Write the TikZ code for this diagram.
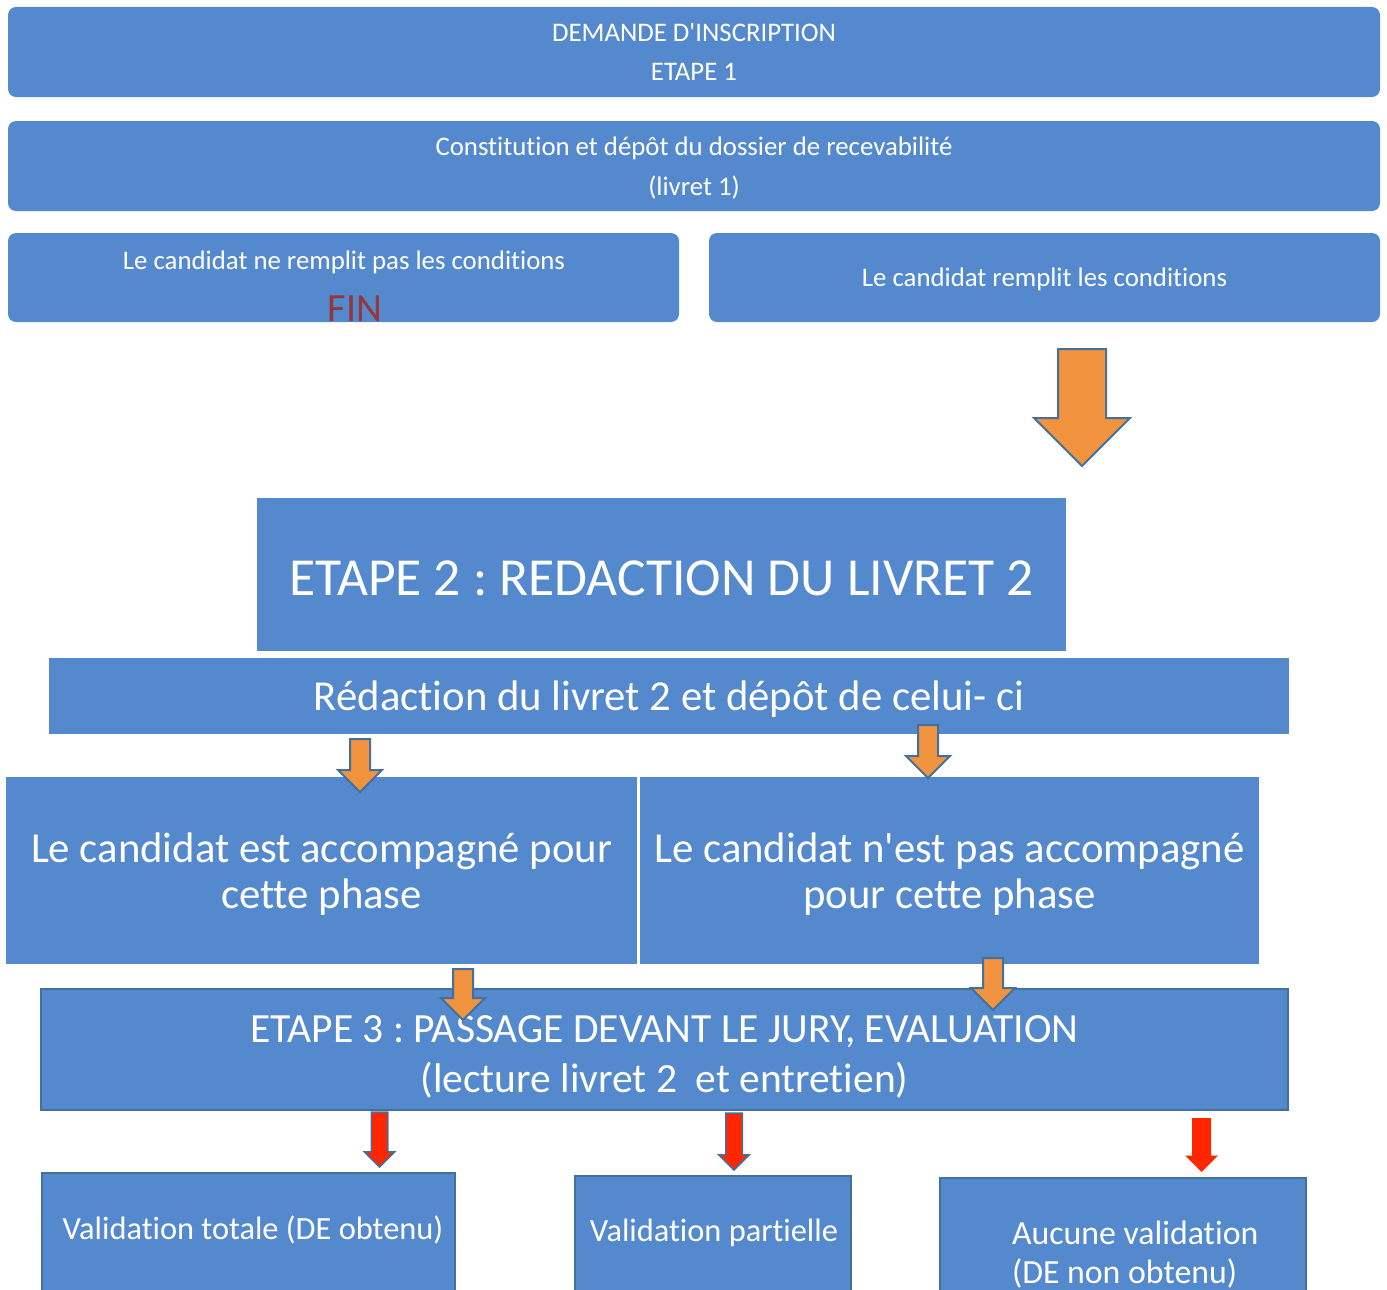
\documentclass[tikz,border=0pt]{standalone}
\usepackage{fontspec}
\setmainfont[Ligatures=NoCommon]{Carlito}
\usepackage{xcolor}
\usepackage{tikz}
\usetikzlibrary{shapes,shapes.arrows,positioning}
\frenchspacing

\definecolor{boxblue}{RGB}{85,137,206}
\definecolor{edgeblue}{RGB}{65,113,156}
\definecolor{arrorange}{RGB}{242,147,64}
\definecolor{arrred}{RGB}{255,38,0}
\definecolor{finred}{RGB}{149,55,53}

\begin{document}
\begin{tikzpicture}[x=1pt,y=-1pt,
  every node/.style={inner sep=0pt,outer sep=0pt,text=white,align=center,text depth=0pt},
  round box/.style={rectangle,rounded corners=8pt,fill=boxblue,anchor=north west},
  flat box/.style={rectangle,fill=boxblue,anchor=north west},
  framed box/.style={flat box,draw=edgeblue,line width=2pt},
  small text/.style={font=\fontsize{26.8}{39.5}\selectfont},
  big text/.style={font=\fontsize{42.7}{46}\selectfont},
  result text/.style={font=\fontsize{32.4}{39}\selectfont},
  block arrow/.style={single arrow,rotate=270,anchor=tail,draw=edgeblue,
    line width=2pt,fill=arrorange,inner xsep=0pt,single arrow head extend=#1}]

  \useasboundingbox (0,0) rectangle (1387,1290);

  % etape 1
  \node[round box,small text,minimum width=1372pt,minimum height=90pt] (demande) at (8,7) {DEMANDE D\textquotesingle INSCRIPTION\\ETAPE 1};
  \node[round box,small text,minimum width=1372pt,minimum height=90pt] (dossier) at (8,121) {Constitution et dépôt du dossier de recevabilité\\(livret 1)};
  \node[round box,minimum width=671pt,minimum height=89pt] (nonrecv) at (8,233) {};
  \node[small text] (nonrecvtxt) at (344,260) {Le candidat ne remplit pas les conditions};
  \node[font=\fontsize{40}{40}\selectfont,text=finred] (fin) at (355,309) {FIN};
  \node[round box,small text,minimum width=671pt,minimum height=89pt] (recv) at (709,233) {Le candidat remplit les conditions};

  % etape 2
  \node[flat box,font=\fontsize{53.5}{60}\selectfont,minimum width=809pt,minimum height=153pt,text height=42pt] (etape2) at (257,498) {ETAPE 2 : REDACTION DU LIVRET 2};
  \node[flat box,big text,minimum width=1240pt,minimum height=76pt] (redaction) at (49,658) {Rédaction du livret 2 et dépôt de celui- ci};
  \node[flat box,big text,minimum width=631pt,minimum height=187pt] (accomp) at (6,777) {Le candidat est accompagné pour\\cette phase};
  \node[flat box,big text,minimum width=619pt,minimum height=187pt] (nonaccomp) at (640,777) {Le candidat n\textquotesingle est pas accompagné\\pour cette phase};

  % etape 3
  \node[framed box,font=\fontsize{41.5}{50}\selectfont,minimum width=1247pt,minimum height=121pt,text height=86pt] (etape3) at (41,989) {ETAPE 3 : PASSAGE DEVANT LE JURY, EVALUATION\\(lecture livret 2\ \ et entretien)};
  \node[framed box,minimum width=413pt,minimum height=140pt] (valtot) at (42,1173) {};
  \node[result text] (valtottxt) at (253,1228) {Validation totale (DE obtenu)};
  \node[framed box,minimum width=276pt,minimum height=140pt] (valpart) at (575,1176) {};
  \node[result text] (valparttxt) at (714,1230) {Validation partielle};
  \node[framed box,minimum width=366pt,minimum height=140pt] (aucune) at (940,1178) {};
  \node[font=\fontsize{33.8}{39}\selectfont,align=left,anchor=west] (aucunetxt) at (1012,1252) {Aucune validation\\(DE non obtenu)};

  % fleches
  \node[block arrow=24pt,inner ysep=23pt,minimum height=117pt] (arrrecv) at (1082,349) {};
  \node[block arrow=12pt,inner ysep=9pt,minimum height=53pt] (arracc) at (360,739) {};
  \node[block arrow=12pt,inner ysep=9pt,minimum height=53pt] (arrnonacc) at (928,725) {};
  \node[block arrow=12pt,inner ysep=9pt,minimum height=51pt] (arracc3) at (463,969) {};
  \node[block arrow=12pt,inner ysep=9pt,minimum height=52pt] (arrnonacc3) at (993,958) {};
  \node[block arrow=7pt,inner ysep=7.5pt,minimum height=55pt,fill=arrred,line width=1.5pt] (arrtot) at (379.5,1112) {};
  \node[block arrow=7pt,inner ysep=7.5pt,minimum height=57pt,fill=arrred,line width=1.5pt] (arrpart) at (734,1113) {};
  \node[block arrow=7pt,inner ysep=8.5pt,minimum height=54pt,fill=arrred,draw=none] (arraucune) at (1201.5,1118) {};
\end{tikzpicture}
\end{document}
